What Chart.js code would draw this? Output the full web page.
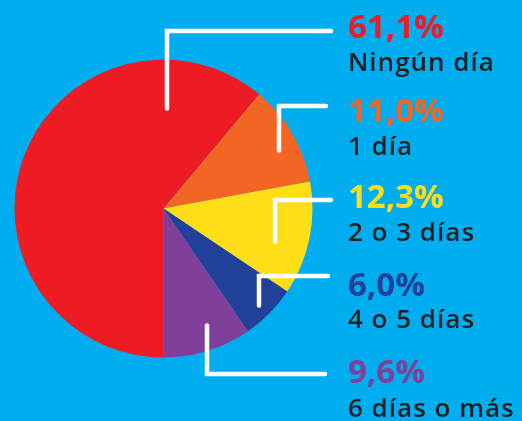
<!DOCTYPE html>
<html>
<head>
<meta charset="utf-8">
<script src="https://cdn.jsdelivr.net/npm/chart.js@4"></script>
<style>
  html, body { margin: 0; padding: 0; background: #00AEEF; }
  canvas { display: block; }
</style>
</head>
<body>
<canvas id="pieChart" width="522" height="421"></canvas>
<script>
'use strict';

// data
let categories = ['Ningún día', '1 día', '2 o 3 días', '4 o 5 días', '6 días o más'];
let percents = [61.1, 11.0, 12.3, 6.0, 9.6];
let percentLabels = ['61,1%', '11,0%', '12,3%', '6,0%', '9,6%'];

let sliceColors = ['#ED1C24', '#F26522', '#FFDE17', '#21409A', '#803F98'];
let textDark = '#231F20';

// leader line: [x offset from centre, start y offset, corner y offset, end x]
let leaders = [
    [3.5, -100, -177.5, 331],
    [115.5, -58, -102.5, 326],
    [111.5, 33, -8.5, 331],
    [95.5, 97, 67.5, 328],
    [43.5, 117, 165.5, 325]
];
// baselines of the percent and of the category text
let pctY = [38, 122, 208, 296, 383];
let catY = [71, 155, 241, 328, 417];
let textX = 348;

let leaderPlugin = {
    id: 'leaders',
    afterDraw(chart) {
        let ctx = chart.ctx;
        let arc = chart.getDatasetMeta(0).data[0];
        let cx = arc.x;
        let cy = arc.y;

        ctx.save();
        ctx.strokeStyle = '#FFFFFF';
        ctx.lineWidth = 4.5;
        ctx.lineCap = 'round';
        ctx.lineJoin = 'miter';
        for (let i = 0; i < leaders.length; i++) {
            let l = leaders[i];
            ctx.beginPath();
            ctx.moveTo(cx + l[0], cy + l[1]);
            ctx.lineTo(cx + l[0], cy + l[2]);
            ctx.lineTo(l[3], cy + l[2]);
            ctx.stroke();
        }

        ctx.textAlign = 'left';
        ctx.textBaseline = 'alphabetic';
        for (let i = 0; i < categories.length; i++) {
            ctx.fillStyle = sliceColors[i];
            ctx.font = '700 33px "Open Sans"';
            ctx.letterSpacing = '0px';
            ctx.fillText(percentLabels[i], textX, pctY[i]);
            ctx.fillStyle = textDark;
            ctx.font = '600 26px "Open Sans"';
            ctx.letterSpacing = '1px';
            ctx.fillText(categories[i], textX, catY[i]);
        }
        ctx.restore();
    }
};

let ctx = document.getElementById('pieChart').getContext('2d');
let pieChart = new Chart(ctx, {
    type: 'pie',
    data: {
        labels: categories,
        datasets: [{
            data: percents,
            backgroundColor: sliceColors,
            borderWidth: 0,
            hoverOffset: 0
        }]
    },
    options: {
        responsive: false,
        animation: false,
        rotation: 180,
        layout: {
            padding: { left: 14.5, right: 209.5, top: 59.5, bottom: 63.5 }
        },
        plugins: {
            legend: { display: false },
            tooltip: { enabled: false }
        }
    },
    plugins: [leaderPlugin]
});
</script>
</body>
</html>
